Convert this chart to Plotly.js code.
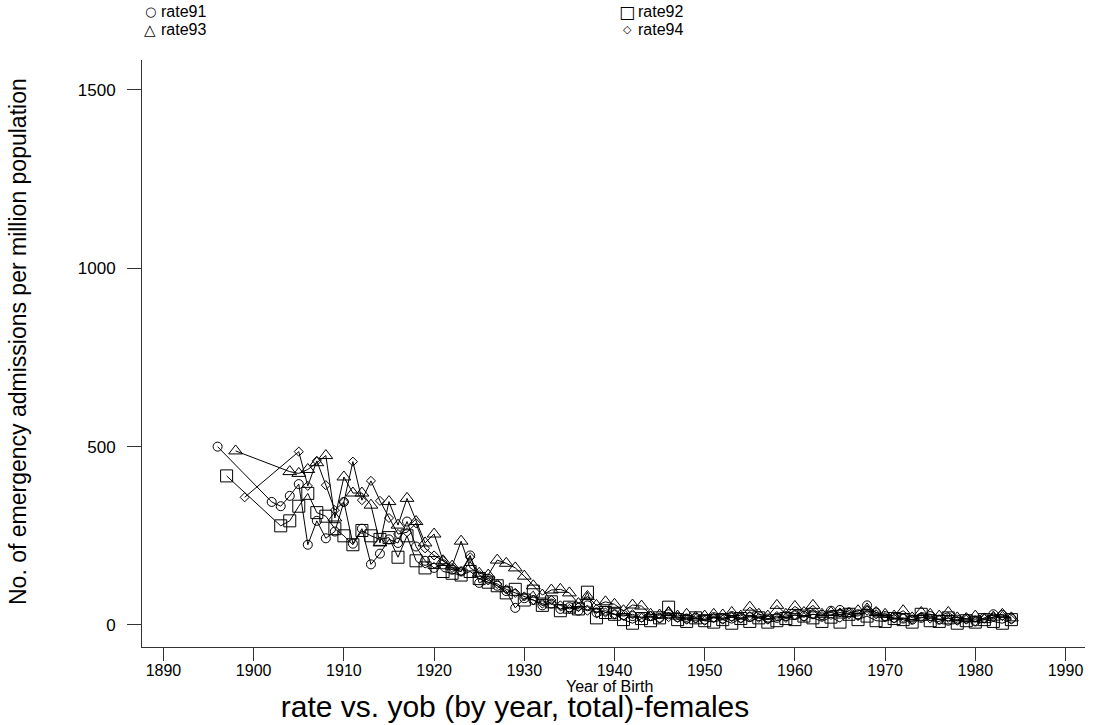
<!DOCTYPE html>
<html>
<head>
<meta charset="utf-8">
<script src="https://cdn.plot.ly/plotly-3.0.1.min.js"></script>
<style>html,body{margin:0;padding:0;background:#fff;}#chart{width:1096px;height:725px;}</style>
</head>
<body>
<div id="chart"></div>
<script>
// Year of birth
var years = [];
for (var yv = 1896; yv <= 1984; yv++) years.push(yv);

// Emergency admissions per million population
var rate91 = [
  500, null, null, null, null, null, 345, 333, 362, 395,
  225, 292, 243, 262, 345, 228, 270, 170, 200, 240,
  230, 290, 220, 180, 160, 170, 155, 150, 195, 118,
  130, 110, 95, 48, 75, 70, 55, 60, 45, 50,
  40, 55, 35, 40, 30, 28, 25, 22, 25, 20,
  30, 22, 18, 20, 15, 22, 18, 25, 20, 22,
  25, 18, 20, 25, 28, 25, 30, 28, 40, 42,
  35, 30, 55, 35, 25, 20, 18, 15, 20, 25,
  15, 12, 15, 18, 10, 20, 30, 28, 18
];
var rate92 = [
  null, 418, null, null, null, null, null, 278, 292, 333,
  369, 315, 305, 270, 250, 225, 265, 250, 240, 245,
  190, 250, 180, 160, 175, 150, 145, 140, 150, 130,
  120, 110, 90, 100, 70, 95, 55, 65, 40, 50,
  45, 92, 20, 35, 30, 15, 5, 18, 12, 20,
  50, 15, 10, 20, 12, 8, 15, 5, 18, 10,
  20, 8, 12, 18, 15, 25, 20, 10, 22, 8,
  30, 15, 25, 12, 10, 18, 15, 8, 30, 12,
  10, 20, 5, 12, 8, 15, 10, 5, 15
];
var rate93 = [
  null, null, 488, null, null, null, null, null, 430, 425,
  436, 455, 475, 300, 415, 370, 370, 336, 230, 346,
  280, 355, 290, 230, 255, 180, 165, 235, 160, 145,
  140, 182, 173, 160, 137, 110, 84, 98, 100, 90,
  60, 80, 55, 65, 58, 40, 56, 53, 30, 28,
  35, 25, 30, 22, 25, 30, 28, 35, 25, 50,
  30, 25, 55, 30, 52, 35, 55, 30, 35, 28,
  32, 40, 45, 35, 30, 25, 40, 20, 35, 30,
  25, 35, 20, 18, 25, 15, 22, 30, 20
];
var rate94 = [
  null, null, null, 358, null, null, null, null, null, 486,
  390, 460, 392, 322, 345, 458, 350, 404, 348, 300,
  255, 260, 285, 215, 195, 180, 160, 150, 190, 140,
  125, 115, 100, 90, 80, 70, 60, 70, 55, 45,
  50, 40, 45, 35, 30, 25, 30, 20, 25, 18,
  22, 20, 15, 18, 12, 20, 15, 22, 18, 25,
  20, 15, 25, 20, 28, 22, 30, 25, 28, 35,
  30, 25, 40, 30, 22, 18, 20, 15, 22, 18,
  15, 20, 12, 15, 10, 18, 22, 25, 15
];

var seriesNames = ['rate91', 'rate92', 'rate93', 'rate94'];
var xTicks = [1890, 1900, 1910, 1920, 1930, 1940, 1950, 1960, 1970, 1980, 1990];
var yTicks = [0, 500, 1000, 1500];

var FONT = 'Liberation Sans, Arial, Helvetica, sans-serif';
var seriesData = [rate91, rate92, rate93, rate94];
var symbols = ['circle-open', 'square-open', 'triangle-up-open', 'diamond-open'];
var sizes = [9, 12, 12, 7];

var traces = seriesData.map(function (vals, i) {
  return {
    type: 'scatter',
    mode: 'lines+markers',
    name: seriesNames[i],
    x: years,
    y: vals,
    connectgaps: true,
    line: {color: '#000', width: 1},
    marker: {symbol: symbols[i], size: sizes[i], color: '#000', line: {color: '#000', width: 1}},
    showlegend: false,
    hoverinfo: 'skip'
  };
});

// plot area in pixels: left 142, top 60, width 943, height 587
function px2paperX(px) { return (px - 142) / 943; }
function px2paperY(py) { return 1 - (py - 60) / 587; }

var glyphs = ['\u25CB', '\u25A1', '\u25B3', '\u25C7'];
var glyphSizes = [13, 17, 15, 11];
var legX = [150, 627, 150, 627];
var legY = [12, 12, 30, 30];
var annotations = [];
seriesNames.forEach(function (nm, i) {
  annotations.push({xref: 'paper', yref: 'paper', x: px2paperX(legX[i]), y: px2paperY(legY[i]),
    text: glyphs[i], showarrow: false, xanchor: 'center', yanchor: 'middle', borderpad: 0,
    font: {family: 'DejaVu Sans', size: glyphSizes[i], color: '#000'}});
  annotations.push({xref: 'paper', yref: 'paper', x: px2paperX(legX[i] + 10), y: px2paperY(legY[i]),
    text: nm, showarrow: false, xanchor: 'left', yanchor: 'middle', borderpad: 0,
    font: {family: FONT, size: 16, color: '#000'}});
});
// axis titles
annotations.push({xref: 'paper', yref: 'paper', x: px2paperX(609), y: px2paperY(686),
  text: 'Year of Birth', showarrow: false, xanchor: 'center', yanchor: 'middle', borderpad: 0,
  font: {family: FONT, size: 16, color: '#000'}});
annotations.push({xref: 'paper', yref: 'paper', x: px2paperX(18), y: px2paperY(342),
  text: 'No. of emergency admissions per million population', textangle: -90, showarrow: false,
  xanchor: 'center', yanchor: 'middle', borderpad: 0,
  font: {family: FONT, size: 23, color: '#000'}});

var layout = {
  width: 1096, height: 725,
  margin: {l: 142, r: 11, t: 60, b: 78, pad: 0},
  paper_bgcolor: '#fff', plot_bgcolor: '#fff',
  showlegend: false,
  font: {family: FONT, color: '#000'},
  title: {text: 'rate vs. yob (by year, total)-females', font: {family: FONT, size: 30, color: '#000'},
          x: 515 / 1096, xref: 'container', xanchor: 'center', y: 1 - 706 / 725, yref: 'container', yanchor: 'middle'},
  xaxis: {
    range: [1887.62, 1992.16], tickvals: xTicks, ticktext: xTicks.map(String),
    ticks: 'outside', ticklen: 13, tickwidth: 1, tickcolor: '#333',
    showline: true, linecolor: '#333', linewidth: 1, mirror: false,
    showgrid: false, zeroline: false,
    ticklabelstandoff: -4,
    tickfont: {family: FONT, size: 16, color: '#000'}
  },
  yaxis: {
    range: [-61.7, 1584], tickvals: yTicks, ticktext: yTicks.map(String),
    ticks: 'outside', ticklen: 14, tickwidth: 1, tickcolor: '#333',
    showline: true, linecolor: '#333', linewidth: 1, mirror: false,
    showgrid: false, zeroline: false,
    ticklabelstandoff: 8,
    tickfont: {family: FONT, size: 17, color: '#000'}
  },
  annotations: annotations
};

Plotly.newPlot('chart', traces, layout, {displayModeBar: false, staticPlot: true});
</script>
</body>
</html>
